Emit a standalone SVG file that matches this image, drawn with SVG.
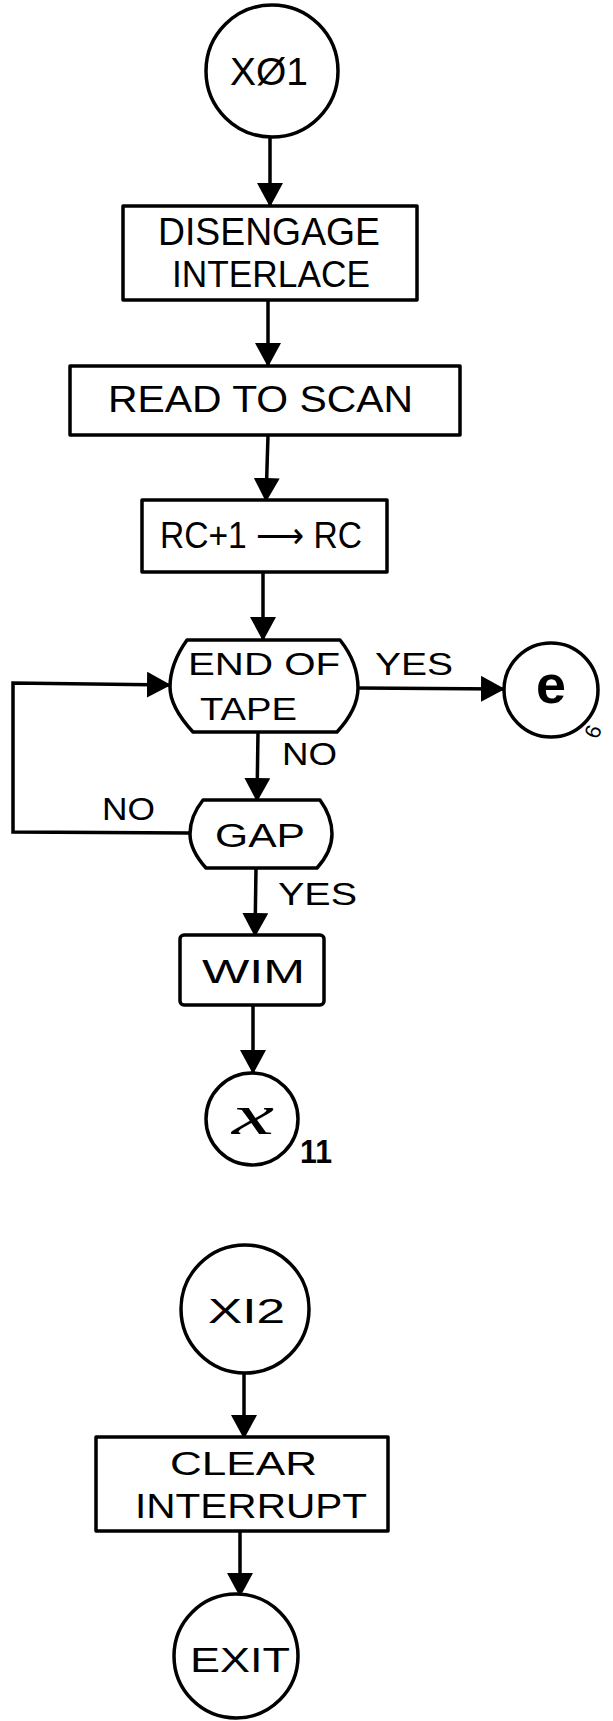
<svg xmlns="http://www.w3.org/2000/svg" width="613" height="1721" viewBox="0 0 613 1721">
<defs>
<style>
.shape{fill:#fff;stroke:#000;stroke-width:3.5;stroke-linejoin:round}
.conn{fill:none;stroke:#000;stroke-width:3.5;stroke-linejoin:miter}
.t{font-family:"Liberation Sans",Arial,"DejaVu Sans",sans-serif;fill:#000}
.lbl{font-family:"Liberation Sans",Arial,sans-serif;fill:#000;font-size:31px}
</style>
<marker id="ah" markerUnits="userSpaceOnUse" markerWidth="24" markerHeight="26" refX="23" refY="13" orient="auto" viewBox="0 0 24 26">
<path d="M0,0 L24,13 L0,26 Z" fill="#000"/>
</marker>
</defs>
<rect width="613" height="1721" fill="#fff"/>

<g id="connectors">
<path class="conn" d="M270,137 L270,206" marker-end="url(#ah)"/>
<path class="conn" d="M268,300 L268,366" marker-end="url(#ah)"/>
<path class="conn" d="M268,435 L266,501" marker-end="url(#ah)"/>
<path class="conn" d="M263,572 L263,640" marker-end="url(#ah)"/>
<path class="conn" d="M358,688 L504,689" marker-end="url(#ah)"/>
<path class="conn" d="M258,732 L257,801" marker-end="url(#ah)"/>
<path class="conn" d="M190,833 L13,832 L13,683 L170,685" marker-end="url(#ah)"/>
<path class="conn" d="M256,868 L255,936" marker-end="url(#ah)"/>
<path class="conn" d="M253,1005 L253,1073" marker-end="url(#ah)"/>
<path class="conn" d="M244,1373 L244,1438" marker-end="url(#ah)"/>
<path class="conn" d="M240,1531 L240,1596" marker-end="url(#ah)"/>
</g>

<g id="x01">
<circle class="shape" cx="272" cy="71" r="66"/>
<text class="t" x="230" y="85" font-size="38" textLength="78" lengthAdjust="spacingAndGlyphs">XØ1</text>
</g>

<g id="disengage">
<rect class="shape" x="123" y="206" width="294" height="94"/>
<text class="t" x="158" y="245" font-size="38" textLength="222" lengthAdjust="spacingAndGlyphs">DISENGAGE</text>
<text class="t" x="172" y="287" font-size="36" textLength="198" lengthAdjust="spacingAndGlyphs">INTERLACE</text>
</g>

<g id="read">
<rect class="shape" x="70" y="366" width="390" height="69"/>
<text class="t" x="108" y="412" font-size="37" textLength="305" lengthAdjust="spacingAndGlyphs">READ TO SCAN</text>
</g>

<g id="rc">
<rect class="shape" x="142" y="500" width="245" height="72"/>
<text class="t" x="160" y="548" font-size="36" textLength="202" lengthAdjust="spacingAndGlyphs">RC+1 ⟶ RC</text>
</g>

<g id="endoftape">
<path class="shape" d="M187,640 L340,640 C352,655 358,672 358,688 C358,704 348,720 337,732 L193,732 C181,719 170,703 170,687 C170,670 177,654 187,640 Z"/>
<text class="t" x="188" y="675" font-size="32" textLength="152" lengthAdjust="spacingAndGlyphs">END OF</text>
<text class="t" x="200" y="720" font-size="32" textLength="97" lengthAdjust="spacingAndGlyphs">TAPE</text>
</g>

<g id="e">
<circle class="shape" cx="551" cy="690" r="47"/>
<text class="t" x="536" y="703" font-size="54" font-weight="bold" textLength="30" lengthAdjust="spacingAndGlyphs">e</text>
<text class="t" font-size="22" transform="translate(598,740) rotate(-70)">6</text>
</g>

<g id="gap">
<path class="shape" d="M203,800 L320,800 C328,811 332,822 332,834 C332,847 326,858 317,868 L206,868 C197,858 190,846 190,834 C190,821 195,810 203,800 Z"/>
<text class="t" x="215" y="847" font-size="34" textLength="90" lengthAdjust="spacingAndGlyphs">GAP</text>
</g>

<g id="wim">
<rect class="shape" x="180" y="935" width="144" height="70" rx="4"/>
<text class="t" x="202" y="983" font-size="34" textLength="103" lengthAdjust="spacingAndGlyphs">WIM</text>
</g>

<g id="x11">
<circle class="shape" cx="252" cy="1119" r="46"/>
<text x="232" y="1134" font-family="'Liberation Serif','Times New Roman',serif" font-style="italic" font-size="56" textLength="42" lengthAdjust="spacingAndGlyphs">x</text>
<text class="t" x="300" y="1163" font-size="34" font-weight="bold" textLength="32" lengthAdjust="spacingAndGlyphs">11</text>
</g>

<g id="xi2">
<circle class="shape" cx="245" cy="1309" r="64"/>
<text class="t" x="208" y="1323" font-size="35" textLength="77" lengthAdjust="spacingAndGlyphs">XI2</text>
</g>

<g id="clear">
<rect class="shape" x="96" y="1437" width="292" height="94"/>
<text class="t" x="170" y="1475" font-size="33" textLength="147" lengthAdjust="spacingAndGlyphs">CLEAR</text>
<text class="t" x="135" y="1518" font-size="35" textLength="232" lengthAdjust="spacingAndGlyphs">INTERRUPT</text>
</g>

<g id="exit">
<circle class="shape" cx="236" cy="1656" r="62"/>
<text class="t" x="190" y="1672" font-size="35" textLength="100" lengthAdjust="spacingAndGlyphs">EXIT</text>
</g>

<g id="labels">
<text class="lbl" x="375" y="675" textLength="78" lengthAdjust="spacingAndGlyphs">YES</text>
<text class="lbl" x="282" y="765" textLength="55" lengthAdjust="spacingAndGlyphs">NO</text>
<text class="lbl" x="102" y="820" textLength="53" lengthAdjust="spacingAndGlyphs">NO</text>
<text class="lbl" x="278" y="905" textLength="79" lengthAdjust="spacingAndGlyphs">YES</text>
</g>
</svg>
